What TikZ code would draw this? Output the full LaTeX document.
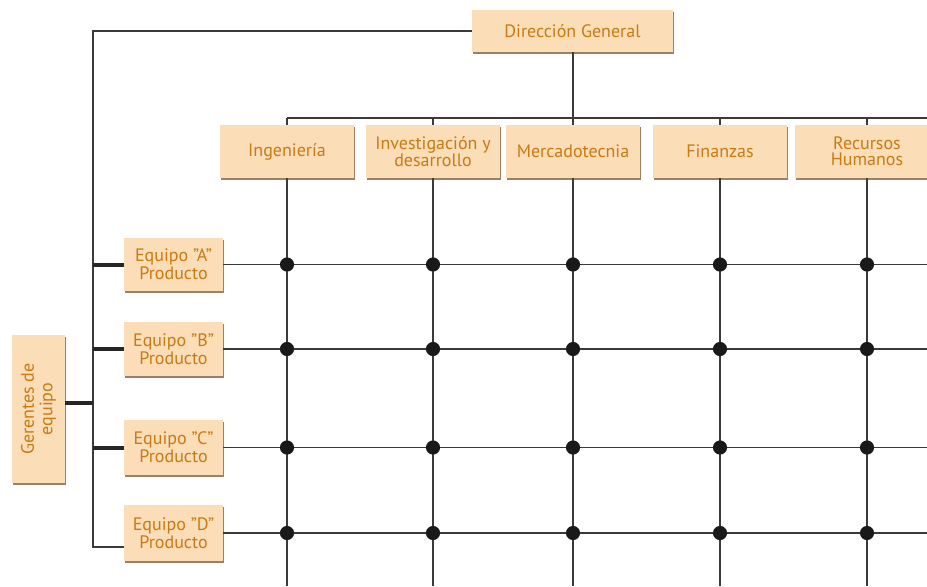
\documentclass[tikz,border=0pt]{standalone}
\usepackage{fontspec}
\setmainfont{PT Sans}
\usetikzlibrary{shadows}

\definecolor{peach}{HTML}{FBDDB8}
\definecolor{gold}{HTML}{C97A12}
\definecolor{linegray}{HTML}{3A3A3A}
\definecolor{shadowbrown}{HTML}{8C6A48}

\begin{document}
\begin{tikzpicture}[x=0.75pt,y=-0.75pt,
    unitbox/.style={fill=peach,text=gold,align=center,inner sep=1pt,
      font=\fontsize{13.5}{12}\selectfont,
      drop shadow={shadow xshift=0.8pt,shadow yshift=-1.6pt,fill=shadowbrown,opacity=0.85}},
    grid/.style={linegray,line width=1.1pt},
    thin/.style={linegray,line width=0.9pt},
    heavy/.style={black!85,line width=3pt}]
        \useasboundingbox (0,0) rectangle (927,586);

        % boxes
        \node[unitbox,minimum width=150.75pt,minimum height=31.5pt] (dg) at (572.5,31) {Dirección General};

        \node[unitbox,minimum width=101pt,minimum height=39.5pt] (ing) at (287,151.5) {Ingeniería};
        \node[unitbox,minimum width=101pt,minimum height=39.5pt] (inv) at (433,151.5) {Investigación y\\desarrollo};
        \node[unitbox,minimum width=101pt,minimum height=39.5pt] (mer) at (573,151.5) {Mercadotecnia};
        \node[unitbox,minimum width=101pt,minimum height=39.5pt] (fin) at (720,151.5) {Finanzas};
        \node[unitbox,minimum width=108pt,minimum height=39.5pt] (rh) at (867,151.5) {Recursos\\Humanos};

        \node[unitbox,minimum width=74pt,minimum height=40pt] (eqA) at (173.5,264.5) {Equipo "A"\\Producto};
        \node[unitbox,minimum width=74pt,minimum height=41pt] (eqB) at (173.5,349) {Equipo "B"\\Producto};
        \node[unitbox,minimum width=74pt,minimum height=41pt] (eqC) at (173.5,447.5) {Equipo "C"\\Producto};
        \node[unitbox,minimum width=74pt,minimum height=42pt] (eqD) at (173.5,533) {Equipo "D"\\Producto};

        \node[unitbox,minimum width=40pt,minimum height=111pt] (ger) at (38.5,409) {};
        \node[text=gold,align=center,rotate=90,font=\fontsize{13.5}{14}\selectfont] (gertext) at (ger.center) {Gerentes de\\equipo};

        % free ends
        \coordinate (spineBot) at (93,547);
        \coordinate (bus) at (573,118);
        \coordinate (busR) at (927,118);
        \coordinate (gridBot) at (0,586);
        \coordinate (gridR) at (927,0);

        % team manager spine
        \draw[thin] (dg.west) -- (dg.west -| spineBot) -- (spineBot) -- (spineBot -| eqD.west);
        \draw[heavy] (eqA.west -| spineBot) -- (eqA.west);
        \draw[heavy] (eqB.west -| spineBot) -- (eqB.west);
        \draw[heavy] (eqC.west -| spineBot) -- (eqC.west);
        \draw[heavy] (ger.east |- 0,403) -- (spineBot |- 0,403);

        % functional bus
        \draw[thin] (dg.south -| bus) -- (bus);
        \draw[thin] (ing.north |- bus) -- (busR);
        \foreach \d in {ing,inv,mer,fin,rh}
          \draw[thin] (\d.north |- bus) -- (\d.north);

        % matrix
        \foreach \d in {ing,inv,mer,fin,rh}
          \draw[grid] (\d.south) -- (\d.south |- gridBot);
        \foreach \e in {eqA,eqB,eqC,eqD}
          \draw[grid] (\e.east) -- (\e.east -| gridR);
        \foreach \d in {ing,inv,mer,fin,rh}
          \foreach \e in {eqA,eqB,eqC,eqD}
            \fill[black!90] (\d |- \e) circle (5.3pt);
      \end{tikzpicture}
\end{document}
